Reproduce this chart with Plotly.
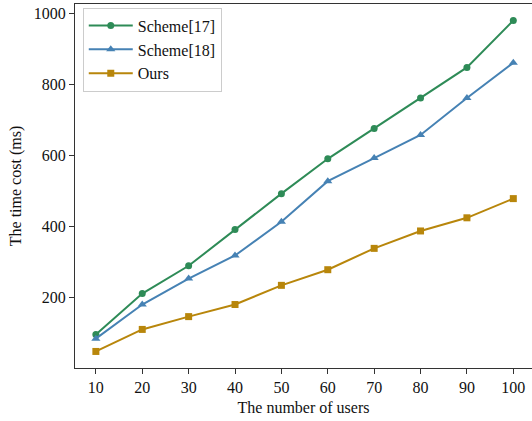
import plotly.graph_objects as go

users = [10, 20, 30, 40, 50, 60, 70, 80, 90, 100]
scheme17 = [97, 212, 290, 392, 493, 591, 676, 762, 848, 980]
scheme18 = [85, 181, 254, 319, 414, 528, 593, 658, 762, 861]
ours = [49, 111, 147, 181, 235, 279, 339, 388, 425, 479]

series = [
    ("Scheme[17]", scheme17, "#2e8b57", "circle", 7),
    ("Scheme[18]", scheme18, "#4682b4", "triangle-up", 8),
    ("Ours", ours, "#b8860b", "square", 7),
]

fig = go.Figure()
for name, vals, col, sym, sz in series:
    fig.add_trace(go.Scatter(
        x=users, y=vals, name=name, mode="lines+markers",
        line=dict(color=col, width=2),
        marker=dict(symbol=sym, size=sz, color=col),
    ))

font = "Liberation Serif"
fig.update_layout(
    width=532, height=421,
    margin=dict(l=75, r=0, t=4, b=53),
    paper_bgcolor="white", plot_bgcolor="white",
    font=dict(family=font, size=16, color="#111"),
    showlegend=True,
    legend=dict(
        x=0.017, y=0.99, xanchor="left", yanchor="top",
        bgcolor="white", bordercolor="#cccccc", borderwidth=1,
        itemwidth=44,
        font=dict(family=font, size=16),
    ),
    xaxis=dict(
        range=[5.5, 104.03], tickvals=users,
        showgrid=False, zeroline=False,
        showline=True, linecolor="#333", linewidth=1.2, mirror=True,
        ticks="outside", ticklen=5, tickcolor="#333",
        tickfont=dict(family=font, size=16),
        title=dict(text="The number of users", font=dict(family=font, size=16), standoff=6),
    ),
    yaxis=dict(
        range=[2.45, 1026.5], tickvals=[200, 400, 600, 800, 1000],
        showgrid=False, zeroline=False,
        showline=True, linecolor="#333", linewidth=1.2, mirror=False,
        ticks="outside", ticklen=5, tickcolor="#333",
        tickfont=dict(family=font, size=16),
        title=dict(text="The time cost (ms)", font=dict(family=font, size=16), standoff=8),
    ),
)

fig.write_html(
    "out.html",
    config={"displayModeBar": False},
    post_script="document.body.style.margin='0';document.body.style.overflow='hidden';",
)
